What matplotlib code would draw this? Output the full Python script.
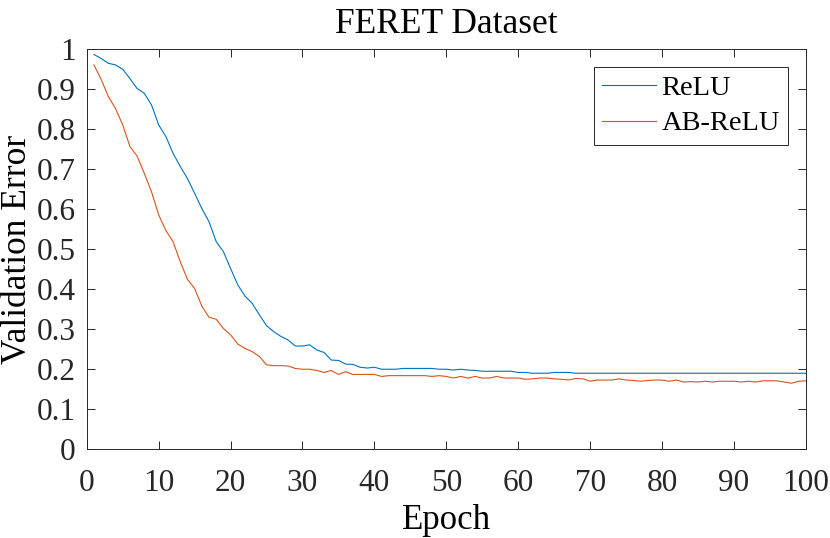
import numpy as np
import matplotlib
matplotlib.use("Agg")
import matplotlib.pyplot as plt

plt.rcParams['font.family'] = ['Liberation Serif', 'DejaVu Serif']

epochs = np.arange(1, 101)

relu = [0.987, 0.977, 0.965, 0.961, 0.950, 0.927, 0.902, 0.890, 0.861, 0.811,
        0.782, 0.740, 0.707, 0.677, 0.640, 0.602, 0.569, 0.519, 0.494, 0.452,
        0.411, 0.383, 0.365, 0.336, 0.309, 0.294, 0.282, 0.273, 0.258, 0.258,
        0.261, 0.248, 0.242, 0.223, 0.222, 0.213, 0.212, 0.205, 0.203, 0.205,
        0.200, 0.200, 0.200, 0.202, 0.202, 0.202, 0.202, 0.202, 0.200, 0.200,
        0.198, 0.200, 0.198, 0.197, 0.195, 0.195, 0.195, 0.195, 0.195, 0.192,
        0.192, 0.190, 0.190, 0.190, 0.192, 0.192, 0.192, 0.190, 0.190, 0.190,
        0.190, 0.190, 0.190, 0.190, 0.190, 0.190, 0.190, 0.190, 0.190, 0.190,
        0.190, 0.190, 0.190, 0.190, 0.190, 0.190, 0.190, 0.190, 0.190, 0.190,
        0.190, 0.190, 0.190, 0.190, 0.190, 0.190, 0.190, 0.190, 0.190, 0.190]

ab_relu = [0.961, 0.925, 0.882, 0.852, 0.811, 0.757, 0.733, 0.690, 0.644, 0.586,
           0.547, 0.519, 0.469, 0.425, 0.402, 0.358, 0.330, 0.325, 0.302, 0.286,
           0.263, 0.252, 0.244, 0.232, 0.211, 0.209, 0.209, 0.208, 0.202, 0.200,
           0.200, 0.197, 0.192, 0.197, 0.187, 0.194, 0.187, 0.187, 0.187, 0.187,
           0.182, 0.184, 0.184, 0.184, 0.184, 0.184, 0.184, 0.182, 0.184, 0.182,
           0.178, 0.182, 0.178, 0.182, 0.178, 0.178, 0.182, 0.178, 0.178, 0.178,
           0.175, 0.176, 0.178, 0.178, 0.176, 0.175, 0.173, 0.177, 0.176, 0.170,
           0.173, 0.173, 0.173, 0.176, 0.173, 0.172, 0.170, 0.172, 0.173, 0.173,
           0.170, 0.173, 0.168, 0.169, 0.168, 0.170, 0.168, 0.170, 0.170, 0.170,
           0.168, 0.170, 0.168, 0.171, 0.171, 0.171, 0.168, 0.165, 0.170, 0.171]

xticks = np.arange(0, 101, 10)
yticks = np.arange(0, 1.01, 0.1)

fig = plt.figure(figsize=(8.3, 5.38), dpi=100)
ax = fig.add_axes([0.1045, 0.165, 0.8665, 0.7434])

ax.plot(epochs, relu, color='#0072BD', lw=0.8, label='ReLU')
ax.plot(epochs, ab_relu, color='#D95319', lw=0.8, label='AB-ReLU')

ax.set_xlim(0, 100)
ax.set_ylim(0, 1)
ax.set_xticks(xticks)
ax.set_yticks(yticks)
ax.set_yticklabels(['0'] + ['%.1f' % v for v in yticks[1:-1]] + ['1'])

axcol = '#262626'
for s in ax.spines.values():
    s.set_color(axcol)
    s.set_linewidth(0.7)
ax.tick_params(direction='in', length=6, width=0.7, colors=axcol,
               top=True, right=True, labelsize=22.5)
ax.tick_params(axis='x', pad=14)
ax.tick_params(axis='y', pad=8)

ax.set_title('FERET Dataset', fontsize=25.5, pad=11.7)
ax.set_xlabel('Epoch', fontsize=25)
ax.set_ylabel('Validation Error', fontsize=25.5)
# labels sit right at the figure edge, as in the original
ax.xaxis.set_label_coords(0.5, -0.138)
ax.yaxis.set_label_coords(-0.074, 0.5)

leg = ax.legend(loc='upper right', bbox_to_anchor=(0.9754, 0.9565), fontsize=20.4,
                fancybox=False, framealpha=1, edgecolor=axcol,
                handlelength=1.9, handletextpad=0.18, borderpad=0.3,
                labelspacing=0.34, borderaxespad=0)
leg.get_frame().set_linewidth(0.7)

fig.savefig('out.png', dpi=100)
